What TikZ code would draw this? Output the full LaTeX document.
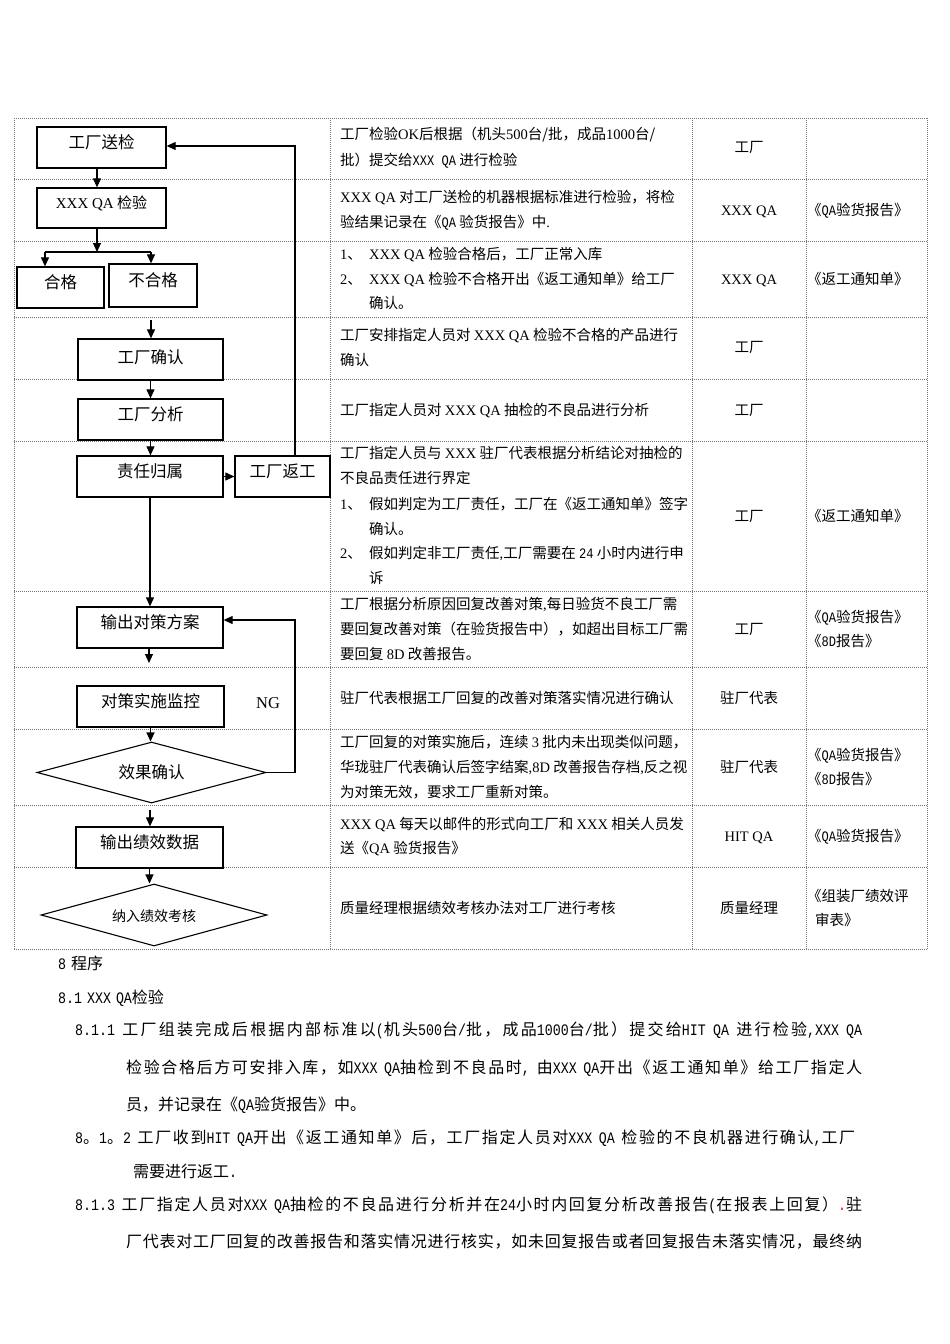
\documentclass[tikz,border=0pt]{standalone}
\usepackage{fontspec}
\setmainfont{Noto Sans CJK SC}
\newfontfamily\enfont{Liberation Serif}
\newfontfamily\monofont[FakeStretch=0.83]{Liberation Mono}
\newcommand\E[1]{{\enfont #1}}
\newcommand\M[1]{{\monofont #1}}
\newcommand\bodyfont{\fontsize{16}{18}\selectfont\spaceskip 5pt plus 1pt\relax}
\XeTeXinterchartokenstate=1
\newcount\cjkcnt
\cjkcnt="3000 \loop \XeTeXcharclass\cjkcnt=7 \advance\cjkcnt 1 \ifnum\cjkcnt<"3040 \repeat
\cjkcnt="4E00 \loop \XeTeXcharclass\cjkcnt=7 \advance\cjkcnt 1 \ifnum\cjkcnt<"A000 \repeat
\cjkcnt="FF00 \loop \XeTeXcharclass\cjkcnt=7 \advance\cjkcnt 1 \ifnum\cjkcnt<"FFF0 \repeat
\XeTeXinterchartoks 7 7 = {\hskip 0pt plus 1pt\relax}
\XeTeXinterchartoks 7 0 = {\hskip 0pt plus 1pt\relax}
\XeTeXinterchartoks 0 7 = {\hskip 0pt plus 1pt\relax}
\usetikzlibrary{arrows.meta,shapes.geometric}
\begin{document}
\begin{tikzpicture}[x=1pt,y=-1pt,
  gridline/.style={black!55, line width=0.7pt, dash pattern=on 1pt off 1pt},
  fbox/.style={draw, line width=1.3pt, rectangle, inner sep=0pt, text height=14.5pt, text depth=12pt, font=\fontsize{16.5}{18}\selectfont},
  fdia/.style={draw, line width=1.1pt, diamond, inner sep=0pt, text height=14.5pt, text depth=2pt, font=\fontsize{16.5}{18}\selectfont},
  arr/.style={line width=1.1pt, -{Triangle[length=9pt,width=8pt]}},
  ln/.style={line width=1.1pt},
  tx/.style={inner sep=0pt, anchor=west, text height=12.8pt, text depth=1.7pt, font=\fontsize{14.5}{17}\selectfont},
  tc/.style={tx, anchor=center},
  bt/.style={inner sep=0pt, anchor=west, text height=14.1pt, text depth=1.9pt, font=\bodyfont}
]
\useasboundingbox (0,0) rectangle (950,1344);
\fill[white] (0,0) rectangle (950,1344);

% ---------- table grid ----------
\foreach \yy in {118,179,241,317,379,441,591,667,729,805,867,949}
  \draw[gridline] (14,\yy) -- (927,\yy);
\foreach \xx in {14,330,692,806,927}
  \draw[gridline] (\xx,118) -- (\xx,949);

% ---------- flowchart ----------
\node[fbox, minimum width=129pt, minimum height=41pt] (n1) at (101.5,147.5) {工厂送检};
\node[fbox, minimum width=129pt, minimum height=40pt, text depth=14pt, font=\fontsize{15}{17}\selectfont] (n2) at (101.5,208) {\E{XXX QA} 检验};
\node[fbox, minimum width=87pt, minimum height=41pt] (n3) at (60.5,287.5) {合格};
\node[fbox, minimum width=88pt, minimum height=43pt] (n4) at (153,285.5) {不合格};
\node[fbox, minimum width=145pt, minimum height=41pt, text depth=7pt] (n5) at (150.5,359.5) {工厂确认};
\node[fbox, minimum width=145pt, minimum height=41pt] (n6) at (150.5,419.5) {工厂分析};
\node[fbox, minimum width=146pt, minimum height=41pt] (n7) at (150,476.5) {责任归属};
\node[fbox, minimum width=95pt, minimum height=41pt] (n8) at (282.5,476.5) {工厂返工};
\node[fbox, minimum width=146pt, minimum height=41pt] (n9) at (150,627.5) {输出对策方案};
\node[fbox, minimum width=147pt, minimum height=41pt] (n10) at (150.5,706.5) {对策实施监控};
\node[fdia, shape aspect=3.75, minimum width=229pt, minimum height=61pt] (n11) at (151.5,772.5) {效果确认};
\node[fbox, minimum width=147pt, minimum height=41pt] (n12) at (149.5,847.5) {输出绩效数据};
\node[fdia, shape aspect=3.65, minimum width=226pt, minimum height=62pt, font=\fontsize{14}{16}\selectfont] (n13) at (154,915) {纳入绩效考核};
\node[inner sep=0pt, font=\enfont\fontsize{16.5}{18}\selectfont] (ng) at (268,703) {NG};

\coordinate (j) at (97,252);
\coordinate (jl) at (45,252);
\coordinate (jr) at (151,252);
\coordinate (a1) at (151,320);
\coordinate (a2) at (149,663);
\coordinate (a3) at (150,810);
\coordinate (lp) at (295,146);
\coordinate (lq) at (295,620);

\draw[arr] (n1.south -| j) -- (n2.north -| j);
\draw[arr] (n2.south -| j) -- (j);
\draw[ln] (jl) -- (jr);
\draw[arr] (jl) -- (jl |- n3.north);
\draw[arr] (jr) -- (jr |- n4.north);
\draw[arr] (a1) -- (a1 |- n5.north);
\draw[arr] (n5.south) -- (n6.north);
\draw[arr] (n6.south) -- (n6.south |- n7.north);
\draw[arr] (n7.east) -- (n8.west);
\draw[arr] (lp |- n8.north) -- (lp) -- (n1.east |- lp);
\draw[arr] (n7.south) -- (n9.north);
\draw[arr] (n9.south -| a2) -- (a2);
\draw[arr] (n10.south) -- (n10.south |- n11.north);
\draw[arr] (n11.east) -- (n11.east -| lq) -- (lq) -- (lq -| n9.east);
\draw[arr] (a3) -- (a3 |- n12.north);
\draw[arr] (n12.south) -- (n12.south |- n13.north);

% ---------- table column 2 ----------
\node[tx] (r1a) at (340,134) {工厂检验\E{OK}后根据（机头\E{500}台/批，成品\E{1000}台/};
\node[tx] (r1b) at (340,160) {批）提交给\M{XXX QA} 进行检验};
\node[tx] (r2a) at (340,197) {\E{XXX QA} 对工厂送检的机器根据标准进行检验，将检};
\node[tx] (r2b) at (340,222) {验结果记录在《\M{QA} 验货报告》中\E{.}};
\node[tx] (r3a) at (340,254) {\E{1}、};
\node[tx] (r3b) at (369,254) {\E{XXX QA} 检验合格后，工厂正常入库};
\node[tx] (r3c) at (340,279) {\E{2}、};
\node[tx] (r3d) at (369,279) {\E{XXX QA} 检验不合格开出《返工通知单》给工厂};
\node[tx] (r3e) at (369,303) {确认。};
\node[tx] (r4a) at (340,335) {工厂安排指定人员对 \E{XXX QA} 检验不合格的产品进行};
\node[tx] (r4b) at (340,360) {确认};
\node[tx] (r5a) at (340,410) {工厂指定人员对 \E{XXX QA} 抽检的不良品进行分析};
\node[tx] (r6a) at (340,453) {工厂指定人员与 \E{XXX} 驻厂代表根据分析结论对抽检的};
\node[tx] (r6b) at (340,478) {不良品责任进行界定};
\node[tx] (r6c) at (340,504) {\E{1}、};
\node[tx] (r6d) at (369,504) {假如判定为工厂责任，工厂在《返工通知单》签字};
\node[tx] (r6e) at (369,529) {确认。};
\node[tx] (r6f) at (340,553) {\E{2}、};
\node[tx] (r6g) at (369,553) {假如判定非工厂责任\E{,}工厂需要在 \M{24} 小时内进行申};
\node[tx] (r6h) at (369,578) {诉};
\node[tx] (r7a) at (340,604) {工厂根据分析原因回复改善对策\E{,}每日验货不良工厂需};
\node[tx] (r7b) at (340,629) {要回复改善对策（在验货报告中），如超出目标工厂需};
\node[tx] (r7c) at (340,654) {要回复 \E{8D} 改善报告。};
\node[tx] (r8a) at (340,698) {驻厂代表根据工厂回复的改善对策落实情况进行确认};
\node[tx] (r9a) at (340,742) {工厂回复的对策实施后，连续 \E{3} 批内未出现类似问题，};
\node[tx] (r9b) at (340,767) {华珑驻厂代表确认后签字结案\E{,8D} 改善报告存档\E{,}反之视};
\node[tx] (r9c) at (340,792) {为对策无效，要求工厂重新对策。};
\node[tx] (r10a) at (340,824) {\E{XXX QA} 每天以邮件的形式向工厂和 \E{XXX} 相关人员发};
\node[tx] (r10b) at (340,848) {送《\E{QA} 验货报告》};
\node[tx] (r11a) at (340,908) {质量经理根据绩效考核办法对工厂进行考核};

% ---------- table column 3 ----------
\node[tc] (c1) at (749,147) {工厂};
\node[tc] (c2) at (749,210) {\E{XXX QA}};
\node[tc] (c3) at (749,279) {\E{XXX QA}};
\node[tc] (c4) at (749,347) {工厂};
\node[tc] (c5) at (749,410) {工厂};
\node[tc] (c6) at (749,516) {工厂};
\node[tc] (c7) at (749,629) {工厂};
\node[tc] (c8) at (749,698) {驻厂代表};
\node[tc] (c9) at (749,767) {驻厂代表};
\node[tc] (c10) at (749,836) {\E{HIT QA}};
\node[tc] (c11) at (749,908) {质量经理};

% ---------- table column 4 ----------
\node[tx] (d2) at (807,210) {《\M{QA}验货报告》};
\node[tx] (d3) at (807,279) {《返工通知单》};
\node[tx] (d6) at (807,516) {《返工通知单》};
\node[tx] (d7a) at (807,617) {《\M{QA}验货报告》};
\node[tx] (d7b) at (807,641) {《\M{8D}报告》};
\node[tx] (d9a) at (807,755) {《\M{QA}验货报告》};
\node[tx] (d9b) at (807,779) {《\M{8D}报告》};
\node[tx] (d10) at (807,836) {《\M{QA}验货报告》};
\node[tx] (d11a) at (807,896) {《组装厂绩效评};
\node[tx] (d11b) at (815,920) {审表》};

% ---------- body text ----------
\node[bt] (p0) at (58,963) {\M{8} 程序};
\node[bt] (p1) at (58,997) {\M{8.1 XXX QA}检验};
\node[bt] (p2) at (75,1029) {\hbox to 787pt{\M{8.1.1} 工厂组装完成后根据内部标准以\M{(}机头\M{500}台\M{/}批，成品\M{1000}台\M{/}批）提交给\M{HIT QA} 进行检验\M{,XXX QA}}};
\node[bt] (p3) at (126,1067) {\hbox to 736pt{检验合格后方可安排入库，如\M{XXX QA}抽检到不良品时\M{,} 由\M{XXX QA}开出《返工通知单》给工厂指定人}};
\node[bt] (p4) at (126,1104) {员，并记录在《\M{QA}验货报告》中。};
\node[bt] (p5) at (75,1137) {\hbox to 780pt{\M{8}。\M{1}。\M{2} 工厂收到\M{HIT QA}开出《返工通知单》后，工厂指定人员对\M{XXX QA} 检验的不良机器进行确认\M{,}工厂}};
\node[bt] (p6) at (133,1171) {需要进行返工\M{.}};
\node[bt] (p7) at (75,1204) {\hbox to 787pt{\M{8.1.3} 工厂指定人员对\M{XXX QA}抽检的不良品进行分析并在\M{24}小时内回复分析改善报告\M{(}在报表上回复）{\color{red}\M{.}}驻}};
\node[bt] (p8) at (126,1241) {\hbox to 736pt{厂代表对工厂回复的改善报告和落实情况进行核实，如未回复报告或者回复报告未落实情况，最终纳}};
\end{tikzpicture}
\end{document}
